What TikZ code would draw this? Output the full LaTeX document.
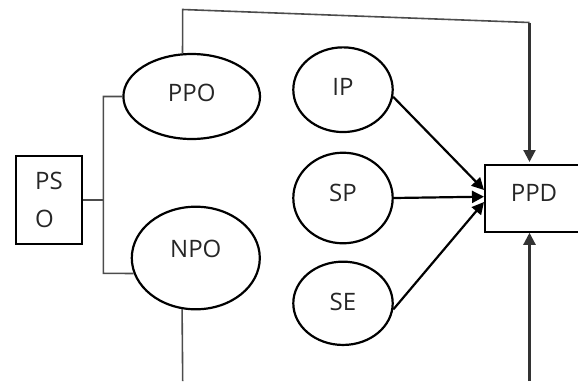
\documentclass[tikz,border=0pt]{standalone}
\usepackage{fontspec}
\setmainfont{Open Sans}
\usetikzlibrary{shapes.geometric,arrows.meta}
\begin{document}
\begin{tikzpicture}[x=1pt,y=-1pt,
  every node/.style={font=\fontsize{24}{38}\selectfont, text=black!85},
  shapeline/.style={draw=black, line width=2.2pt},
  oval/.style={shapeline, ellipse, inner sep=0pt},
  boxnode/.style={shapeline, rectangle, inner sep=0pt},
  conn/.style={draw=black!70, line width=1.6pt},
  arr/.style={draw=black, line width=2.2pt, -{Triangle[length=12pt,width=12pt]}},
  lbl/.style={inner sep=0pt}
]
\useasboundingbox (0,0) rectangle (578,381);

% nodes
\node[boxnode, minimum width=66.6pt, minimum height=88.3pt, align=left] (PSO) at (49,200) {PS\\O};
\node[oval, minimum width=136.6pt, minimum height=85pt] (PPO) at (191.7,96.5) {};
\node[lbl] (PPOt) at (191.7,93.3) {PPO};
\node[oval, minimum width=128pt, minimum height=102.6pt] (NPO) at (195.8,258) {};
\node[lbl] (NPOt) at (195.8,249) {NPO};
\node[oval, minimum width=99.4pt, minimum height=84.7pt] (IP) at (343,89.7) {};
\node[lbl] (IPt) at (343,86.7) {IP};
\node[oval, minimum width=99.4pt, minimum height=90.6pt] (SP) at (343,198) {};
\node[lbl] (SPt) at (343,193.3) {SP};
\node[oval, minimum width=99.4pt, minimum height=83.3pt] (SE) at (343,303.3) {};
\node[lbl] (SEt) at (343,301.7) {SE};
\node[boxnode, minimum width=97.4pt, minimum height=66.7pt] (PPD) at (534,198.3) {};
\node[lbl] (PPDt) at (534,193.3) {PPD};

% coordinates
\coordinate (bT) at (103.3,96.5);
\coordinate (bB) at (103.3,273.3);
\coordinate (tl) at (182.7,9.5);
\coordinate (tr) at (529.5,22.5);
\coordinate (tEnd) at (529.5,162);
\coordinate (nEnd) at (182.7,381);
\coordinate (pStart) at (529.5,381);
\coordinate (eIP) at (484,190);
\coordinate (eSP) at (484,196.7);
\coordinate (eSE) at (484,202);

% left bus
\draw[conn] (PSO.east) -- (PSO.east -| bT);
\draw[conn] (PPO.west) -- (bT) -- (bB) -- (NPO.194);

% top line from PPO to PPD
\draw[conn] (PPO.102) -- (tl) -- (tr);
\draw[arr, draw=black!80] (tr) -- (tEnd);

% NPO down line
\draw[conn] (NPO.255) -- (nEnd);

% bottom arrow into PPD
\draw[arr, draw=black!80] (pStart) -- (PPD.south -| pStart);

% converging arrows
\draw[arr] (IP.-8) -- (eIP);
\draw[arr] (SP.east) -- (eSP);
\draw[arr] (SE.-7) -- (eSE);
\end{tikzpicture}
\end{document}
